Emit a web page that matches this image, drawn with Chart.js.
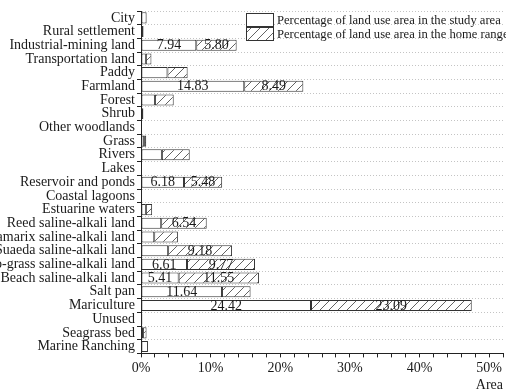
<!DOCTYPE html>
<html>
<head>
<meta charset="utf-8">
<script src="https://cdn.jsdelivr.net/npm/chart.js@4/dist/chart.umd.min.js"></script>
<style>
  html, body { margin: 0; padding: 0; background: #fff; }
  #wrap { width: 506px; height: 391px; }
</style>
</head>
<body>
<div id="wrap"><canvas id="c" width="506" height="391"></canvas></div>
<script>
// Land use categories, listed top to bottom
const categories = [
  'City', 'Rural settlement', 'Industrial-mining land', 'Transportation land',
  'Paddy', 'Farmland', 'Forest', 'Shrub', 'Other woodlands', 'Grass',
  'Rivers', 'Lakes', 'Reservoir and ponds', 'Coastal lagoons', 'Estuarine waters',
  'Reed saline-alkali land', 'Tamarix saline-alkali land', 'Suaeda saline-alkali land',
  'No-grass saline-alkali land', 'Beach saline-alkali land', 'Salt pan',
  'Mariculture', 'Unused', 'Seagrass bed', 'Marine Ranching'
];

// Percentage of land use area in the study area
const studyArea = [
  0.8, 0.35, 7.94, 0.7, 3.8, 14.83, 2.0, 0.3, 0.05, 0.45,
  3.0, 0.05, 6.18, 0.15, 0.7, 2.9, 1.9, 3.9, 6.61, 5.41,
  11.64, 24.42, 0.2, 0.3, 1.0
];

// Percentage of land use area in the home range
const homeRange = [
  0.05, 0.05, 5.80, 0.8, 2.9, 8.49, 2.7, 0.05, 0, 0.3,
  4.0, 0, 5.48, 0.02, 0.9, 6.54, 3.4, 9.18, 9.77, 11.55,
  4.1, 23.09, 0, 0.5, 0
];

const seriesNames = [
  'Percentage of land use area in the study area',
  'Percentage of land use area in the home range'
];

const xLabelValues = [0, 10, 20, 30, 40, 50];
const xAxisTitle = 'Area';

// segments at or above this share carry their value as text
const labelMin = 5;

const FONT = "'Liberation Serif', 'Times New Roman', serif";
const INK = '#1a1a1a';

function makeHatch() {
  const s = 9;
  const c = document.createElement('canvas');
  c.width = s; c.height = s;
  const g = c.getContext('2d');
  g.fillStyle = '#ffffff';
  g.fillRect(0, 0, s, s);
  g.strokeStyle = '#3a3a3a';
  g.lineWidth = 0.8;
  g.beginPath();
  g.moveTo(0, s); g.lineTo(s, 0);
  g.moveTo(-2, 2); g.lineTo(2, -2);
  g.moveTo(s - 2, s + 2); g.lineTo(s + 2, s - 2);
  g.stroke();
  return g.createPattern(c, 'repeat');
}
const hatch = makeHatch();

// value text centred in each wide segment
const valueLabels = {
  id: 'valueLabels',
  afterDatasetsDraw(chart) {
    const ctx = chart.ctx;
    ctx.save();
    ctx.font = '14px ' + FONT;
    ctx.fillStyle = INK;
    ctx.textAlign = 'center';
    ctx.textBaseline = 'middle';
    chart.data.datasets.forEach((ds, di) => {
      const meta = chart.getDatasetMeta(di);
      meta.data.forEach((bar, i) => {
        const v = ds.data[i];
        if (v >= labelMin) {
          ctx.fillText(v.toFixed(2), (bar.x + bar.base) / 2, bar.y + 0.5);
        }
      });
    });
    ctx.restore();
  }
};

// two-row key in the upper right of the plot
const keyBox = {
  id: 'keyBox',
  afterDraw(chart) {
    const ctx = chart.ctx;
    const a = chart.chartArea;
    const x0 = a.left + 105, y0 = a.top + 2;
    const bw = 27, bh = 13, gap = 1;
    ctx.save();
    ctx.font = '12.6px ' + FONT;
    ctx.textBaseline = 'middle';
    ctx.textAlign = 'left';
    chart.data.datasets.forEach((ds, i) => {
      const y = y0 + i * (bh + gap);
      ctx.fillStyle = ds.backgroundColor;
      ctx.fillRect(x0, y, bw, bh);
      ctx.strokeStyle = '#333';
      ctx.lineWidth = 1;
      ctx.strokeRect(x0 + 0.5, y + 0.5, bw, bh);
      ctx.fillStyle = INK;
      ctx.fillText(ds.label, x0 + bw + 4, y + bh / 2 + 1);
    });
    ctx.restore();
  }
};

new Chart(document.getElementById('c'), {
  type: 'bar',
  data: {
    labels: categories,
    datasets: [
      {
        label: seriesNames[0],
        data: studyArea,
        backgroundColor: '#ffffff',
        borderColor: '#333333',
        borderWidth: 1,
        borderSkipped: false
      },
      {
        label: seriesNames[1],
        data: homeRange,
        backgroundColor: hatch,
        borderColor: '#333333',
        borderWidth: 1,
        borderSkipped: false
      }
    ]
  },
  options: {
    indexAxis: 'y',
    responsive: false,
    animation: false,
    devicePixelRatio: 1,
    datasets: { bar: { categoryPercentage: 1, barPercentage: 0.81 } },
    layout: { padding: { top: 11, right: 0, bottom: 0, left: 0 } },
    plugins: {
      legend: { display: false },
      tooltip: { enabled: false }
    },
    scales: {
      x: {
        stacked: true,
        min: 0,
        max: 52,
        afterBuildTicks(scale) {
          const t = [];
          for (let v = 0; v <= 52; v += 2) t.push({ value: v });
          scale.ticks = t;
        },
        ticks: {
          autoSkip: false,
          maxRotation: 0,
          padding: 3,
          color: INK,
          font: { family: FONT, size: 14 },
          callback: (v) => xLabelValues.includes(v) ? v + '%' : ''
        },
        grid: {
          drawOnChartArea: false,
          drawTicks: true,
          tickLength: 4,
          tickColor: '#222'
        },
        border: { display: true, color: '#222', width: 1 },
        title: {
          display: true,
          text: xAxisTitle,
          align: 'end',
          color: INK,
          font: { family: FONT, size: 14 },
          padding: { top: -3, bottom: -3 }
        }
      },
      y: {
        stacked: true,
        afterFit(scale) { scale.width = 141; },
        ticks: {
          autoSkip: false,
          padding: 2,
          color: INK,
          font: { family: FONT, size: 14 }
        },
        grid: {
          offset: true,
          color: '#c4c4c4',
          lineWidth: 1,
          tickLength: 4,
          tickColor: '#222',
          tickBorderDash: []
        },
        border: { display: true, color: '#222', width: 1, dash: [1, 2] }
      }
    }
  },
  plugins: [valueLabels, keyBox]
});
</script>
</body>
</html>
